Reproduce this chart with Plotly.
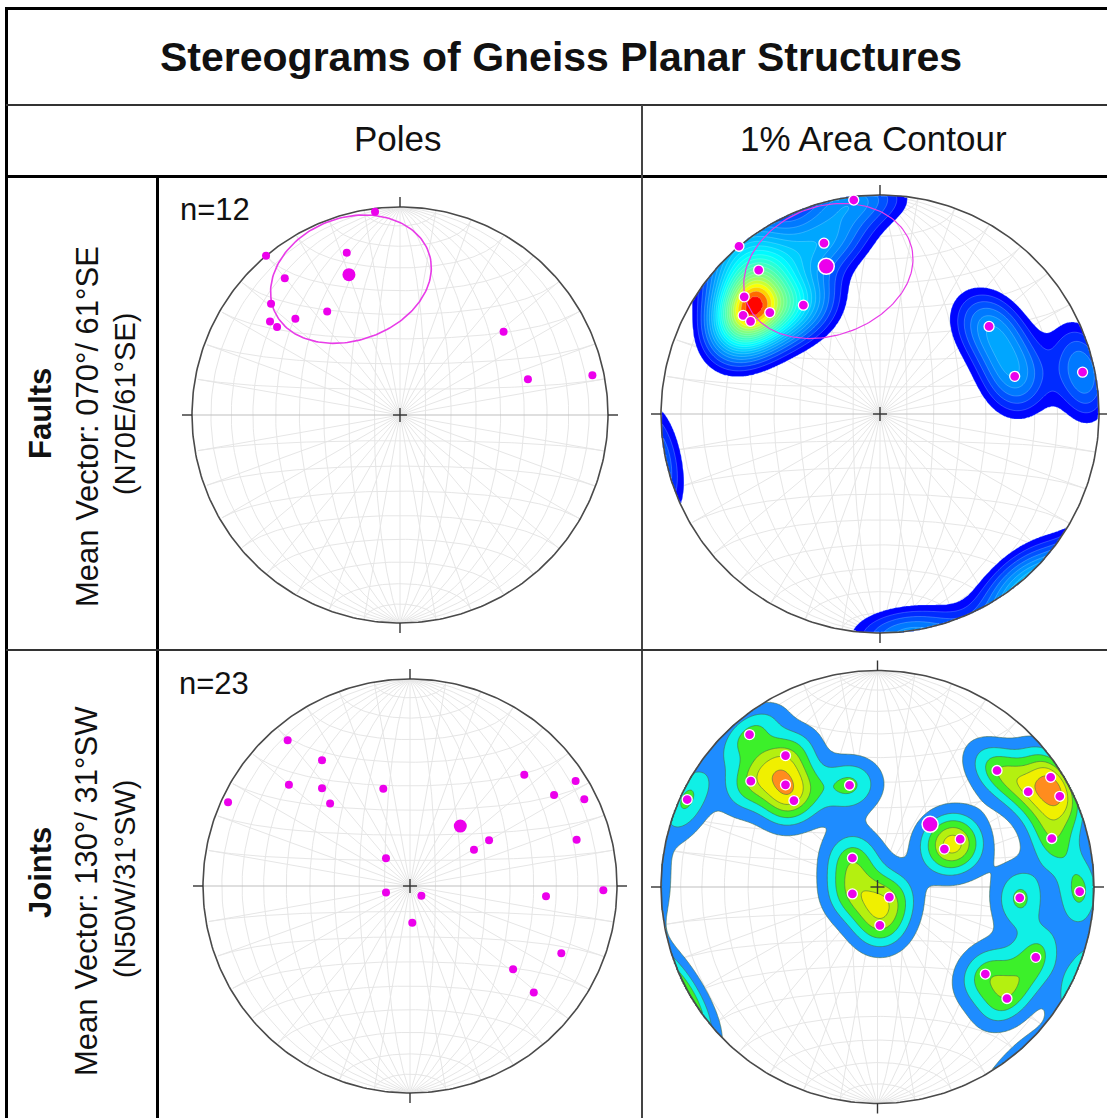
import numpy as np
import plotly.graph_objects as go

W, H = 1107, 1118

# ---------------- text content ----------------
TITLE = "Stereograms of Gneiss Planar Structures"
COLUMN_HEADERS = ["Poles", "1% Area Contour"]
ROW_TITLES = ["Faults", "Joints"]
ROW_MEAN_VECTORS = ["Mean Vector: 070°/ 61°SE", "Mean Vector: 130°/ 31°SW"]
ROW_QUADRANT = ["(N70E/61°SE)", "(N50W/31°SW)"]
ROW_COUNTS = ["n=12", "n=23"]

# ---------------- data (equal-area, lower hemisphere, in net radii) ----------------
fault_pole_east = [-0.120, -0.644, -0.256, -0.554, -0.620, -0.350, -0.503, -0.625,
                   -0.591, 0.498, 0.615, 0.925]
fault_pole_north = [0.977, 0.766, 0.780, 0.657, 0.535, 0.497, 0.463, 0.450,
                    0.423, 0.400, 0.172, 0.191]

joint_pole_east = [-0.591, -0.425, -0.585, -0.425, -0.879, -0.386, -0.129, 0.552,
                   0.800, 0.696, 0.842, 0.382, 0.309, 0.805, -0.116, -0.116,
                   0.055, 0.011, 0.657, 0.934, 0.731, 0.498, 0.598]
joint_pole_north = [0.704, 0.607, 0.489, 0.472, 0.404, 0.399, 0.470, 0.538,
                    0.507, 0.440, 0.419, 0.221, 0.175, 0.224, 0.134, -0.032,
                    -0.047, -0.177, -0.050, -0.021, -0.325, -0.402, -0.515]

# mean pole vectors (trend, plunge in degrees) and confidence cone
fault_mean_trend, fault_mean_plunge = 340, 29
joint_mean_trend, joint_mean_plunge = 40, 59
fault_cone_angle = 28

# contour settings (density kernel concentration and contour levels)
fault_kernel_k = 35
joint_kernel_k = 60
joint_levels = [0.26, 0.60, 0.95, 1.30, 1.62, 1.98, 2.30]
joint_colors = ["#1e8cff", "#10f0e6", "#3cf02a", "#b4f010", "#f0f000", "#ff8c1e", "#e61e1e"]
# fault colour ramp: level fraction -> position on the jet ramp
fault_ramp_frac = [0.0, 0.15, 0.45, 0.75, 0.9, 1.0]
fault_ramp_jet = [0.13, 0.25, 0.38, 0.52, 0.66, 0.87]

FONT = "Liberation Sans, Arial, sans-serif"
MAGENTA = "#ec00ec"


# ---------------- geometry helpers ----------------
def project(v):
    v = np.where(v[..., 2:3] > 0, -v, v)
    s = 1.0 / np.sqrt(1.0 - v[..., 2])
    return v[..., 0] * s, v[..., 1] * s


def unproject(X, Y):
    X = np.asarray(X, float)
    Y = np.asarray(Y, float)
    r2 = X ** 2 + Y ** 2
    f = np.sqrt(np.clip(2.0 - r2, 0, None))
    return np.stack([X * f, Y * f, -(1.0 - r2)], axis=-1)


def line_vec(trend, plunge):
    t, p = np.radians(trend), np.radians(plunge)
    return np.array([np.cos(p) * np.sin(t), np.cos(p) * np.cos(t), -np.sin(p)])


def net_curves():
    curves = []
    lam = np.linspace(0, np.pi, 121)
    for d in range(10, 180, 10):
        dd = np.radians(d)
        v = np.stack([np.sin(lam) * np.cos(dd), np.cos(lam), -np.sin(lam) * np.sin(dd)], -1)
        curves.append(project(v))
    om = np.linspace(np.pi, 2 * np.pi, 121)
    for a in range(10, 180, 10):
        if a == 90:
            continue
        aa = np.radians(a)
        v = np.stack([np.sin(aa) * np.cos(om), np.full_like(om, np.cos(aa)),
                      np.sin(aa) * np.sin(om)], -1)
        curves.append(project(v))
    return [([round(float(q), 4) for q in X], [round(float(q), 4) for q in Y])
            for X, Y in curves]


def cone_curve(trend, plunge, angle):
    m = line_vec(trend, plunge)
    u = np.array([np.cos(np.radians(trend)), -np.sin(np.radians(trend)), 0.0])
    w = np.cross(m, u)
    b = np.linspace(0, 2 * np.pi, 181)
    a = np.radians(angle)
    v = (np.cos(a) * m[None, :] + np.sin(a) * (np.cos(b)[:, None] * u[None, :]
                                                + np.sin(b)[:, None] * w[None, :]))
    X, Y = project(v)
    return [round(float(q), 4) for q in X], [round(float(q), 4) for q in Y]


NG = 341
grid = np.linspace(-1, 1, NG)


def density(east, north, k):
    P = unproject(east, north)
    GX, GY = np.meshgrid(grid, grid)
    inside = GX ** 2 + GY ** 2 <= 1.0
    G = unproject(GX, GY)
    c = np.abs(G @ P.T)
    D = np.exp(k * (c - 1.0)).sum(-1)
    D[~inside] = 0.0
    return D


def jet(t):
    r = np.clip(1.5 - abs(4 * t - 3), 0, 1)
    g = np.clip(1.5 - abs(4 * t - 2), 0, 1)
    b = np.clip(1.5 - abs(4 * t - 1), 0, 1)
    return "rgb(%d,%d,%d)" % (r * 255, g * 255, b * 255)


# ---------------- panel geometry (pixels) ----------------
panels = [
    dict(box=(159, 641, 178, 649), c=(400, 415), R=208),
    dict(box=(643, 1107, 178, 649), c=(880, 414), R=219),
    dict(box=(159, 641, 651, 1118), c=(410, 886), R=207),
    dict(box=(643, 1107, 651, 1118), c=(877.5, 887), R=216.5),
]

fig = go.Figure()
layout_axes = {}
curves = net_curves()

fault_mean_xy = project(line_vec(fault_mean_trend, fault_mean_plunge)[None, :])
joint_mean_xy = project(line_vec(joint_mean_trend, joint_mean_plunge)[None, :])
cone_x, cone_y = cone_curve(fault_mean_trend, fault_mean_plunge, fault_cone_angle)

fault_D = density(fault_pole_east, fault_pole_north, fault_kernel_k)
joint_D = density(joint_pole_east, joint_pole_north, joint_kernel_k)

n_fault_levels = 22
fault_levels = list(np.linspace(0.35, 0.96 * fault_D.max(), n_fault_levels))
fault_colors = [jet(float(np.interp(i / (n_fault_levels - 1), fault_ramp_frac, fault_ramp_jet)))
                for i in range(n_fault_levels)]


def add_contour(D, levels, colors, xa, ya, line_color, line_width):
    n = len(levels)
    xp = [0.0] + list(levels) + [levels[-1] * 10 + 10]
    fp = list(range(n + 2))
    Z = np.round(np.interp(D, xp, fp), 3)
    cs = [[0.0, "rgba(255,255,255,0)"]] + [[(i + 1) / n, colors[i]] for i in range(n)]
    fig.add_trace(go.Contour(
        x=grid, y=grid, z=Z, xaxis=xa, yaxis=ya, showscale=False,
        colorscale=cs, autocontour=False,
        contours=dict(start=1, end=n, size=1, coloring="fill", showlines=True),
        line=dict(color=line_color, width=line_width, smoothing=1),
        hoverinfo="skip"))


for i, p in enumerate(panels):
    x0, x1, y0, y1 = p["box"]
    cx, cy = p["c"]
    R = p["R"]
    sfx = "" if i == 0 else str(i + 1)
    osfx = str(i + 5)
    xa, ya = "x" + sfx, "y" + sfx
    oxa, oya = "x" + osfx, "y" + osfx
    xr = [(x0 - cx) / R, (x1 - cx) / R]
    yr = [(cy - y1) / R, (cy - y0) / R]
    layout_axes["xaxis" + sfx] = dict(domain=[x0 / W, x1 / W], range=xr,
                                      visible=False, fixedrange=True, anchor=ya)
    layout_axes["yaxis" + sfx] = dict(domain=[1 - y1 / H, 1 - y0 / H], range=yr,
                                      visible=False, fixedrange=True, anchor=xa)
    layout_axes["xaxis" + osfx] = dict(overlaying=xa, range=xr, visible=False,
                                       fixedrange=True, anchor=oya)
    layout_axes["yaxis" + osfx] = dict(overlaying=ya, range=yr, visible=False,
                                       fixedrange=True, anchor=oxa)
    # grid of the net (underneath subplot)
    for cxs, cys in curves:
        fig.add_trace(go.Scatter(x=cxs, y=cys, xaxis=xa, yaxis=ya, mode="lines",
                                 line=dict(color="#e6e6e6", width=1), hoverinfo="skip"))
    fig.add_trace(go.Scatter(x=[-1, 1], y=[0, 0], xaxis=xa, yaxis=ya, mode="lines",
                             line=dict(color="#c0c0c0", width=1.2), hoverinfo="skip"))
    is_fault = i in (0, 1)
    is_contour = i in (1, 3)
    if is_contour:
        if is_fault:
            add_contour(fault_D, fault_levels, fault_colors, oxa, oya,
                        "rgba(210,255,255,0.4)", 0.6)
        else:
            add_contour(joint_D, joint_levels, joint_colors, oxa, oya,
                        "rgba(70,110,70,0.75)", 0.8)
    # primitive circle
    th = np.linspace(0, 2 * np.pi, 361)
    fig.add_trace(go.Scatter(x=[round(float(q), 5) for q in np.cos(th)],
                             y=[round(float(q), 5) for q in np.sin(th)],
                             xaxis=oxa, yaxis=oya, mode="lines",
                             line=dict(color="#4a4a4a", width=1.6), hoverinfo="skip"))
    # ticks and centre cross
    t = 10.0 / R
    c = 7.0 / R
    for tx, ty in [([0, 0], [1, 1 + t]), ([0, 0], [-1, -1 - t]), ([1, 1 + t], [0, 0]),
                   ([-1, -1 - t], [0, 0]), ([-c, c], [0, 0]), ([0, 0], [-c, c])]:
        fig.add_trace(go.Scatter(x=tx, y=ty, xaxis=oxa, yaxis=oya, mode="lines",
                                 line=dict(color="#333333", width=1.4), hoverinfo="skip"))
    # cone
    if is_fault:
        fig.add_trace(go.Scatter(x=cone_x, y=cone_y, xaxis=oxa, yaxis=oya, mode="lines",
                                 line=dict(color="#e83ce8", width=1.6 if not is_contour else 1.2),
                                 hoverinfo="skip"))
    # poles
    ex = fault_pole_east if is_fault else joint_pole_east
    ny = fault_pole_north if is_fault else joint_pole_north
    mxy = fault_mean_xy if is_fault else joint_mean_xy
    if is_contour:
        mk = dict(color=MAGENTA, size=10, line=dict(color="white", width=1.3))
        mk_mean = dict(color=MAGENTA, size=16, line=dict(color="white", width=1.5))
    else:
        mk = dict(color=MAGENTA, size=8, line=dict(width=0))
        mk_mean = dict(color=MAGENTA, size=13, line=dict(width=0))
    fig.add_trace(go.Scatter(x=ex, y=ny, xaxis=oxa, yaxis=oya, mode="markers",
                             marker=mk, hoverinfo="skip"))
    fig.add_trace(go.Scatter(x=[float(mxy[0][0])], y=[float(mxy[1][0])], xaxis=oxa, yaxis=oya,
                             mode="markers", marker=mk_mean, hoverinfo="skip"))


def px(x):
    return x / W


def py(y):
    return 1 - y / H


annotations = [
    dict(x=px(561), y=py(57), text="<b>%s</b>" % TITLE, font=dict(size=41)),
    dict(x=px(398), y=py(139), text=COLUMN_HEADERS[0], font=dict(size=35)),
    dict(x=px(873), y=py(139), text=COLUMN_HEADERS[1], font=dict(size=35)),
    dict(x=px(178), y=py(209), text=ROW_COUNTS[0], font=dict(size=31), xanchor="left"),
    dict(x=px(177), y=py(683), text=ROW_COUNTS[1], font=dict(size=31), xanchor="left"),
    dict(x=px(40), y=py(414), text="<b>%s</b>" % ROW_TITLES[0], font=dict(size=31), textangle=-90),
    dict(x=px(87), y=py(427), text=ROW_MEAN_VECTORS[0], font=dict(size=31), textangle=-90),
    dict(x=px(125), y=py(404), text=ROW_QUADRANT[0], font=dict(size=29), textangle=-90),
    dict(x=px(40), y=py(873), text="<b>%s</b>" % ROW_TITLES[1], font=dict(size=31), textangle=-90),
    dict(x=px(87), y=py(891), text=ROW_MEAN_VECTORS[1], font=dict(size=31), textangle=-90),
    dict(x=px(125), y=py(879), text=ROW_QUADRANT[1], font=dict(size=29), textangle=-90),
]
for a in annotations:
    a.setdefault("xanchor", "center")
    a.update(xref="paper", yref="paper", yanchor="middle", showarrow=False)
    a["font"].update(family=FONT, color="#111111")


def hline(y, x0, x1, w, color="black"):
    return dict(type="line", xref="paper", yref="paper", x0=px(x0), x1=px(x1),
                y0=py(y), y1=py(y), line=dict(color=color, width=w))


def vline(x, y0, y1, w, color="black"):
    return dict(type="line", xref="paper", yref="paper", x0=px(x), x1=px(x),
                y0=py(y0), y1=py(y1), line=dict(color=color, width=w))


shapes = [
    hline(8.5, 5, 1107, 3),
    vline(6.5, 7, 1118, 3),
    hline(105, 6, 1107, 2, "#333333"),
    hline(176.5, 6, 1107, 3),
    vline(642, 105, 1118, 2, "#444444"),
    vline(157.5, 176, 1118, 3),
    hline(650, 6, 1107, 2, "#333333"),
]

fig.update_layout(
    width=W, height=H, autosize=False,
    margin=dict(l=0, r=0, t=0, b=0, pad=0),
    paper_bgcolor="white", plot_bgcolor="rgba(0,0,0,0)",
    showlegend=False, hovermode=False,
    annotations=annotations, shapes=shapes,
    **layout_axes,
)

fig.write_html("out.html")
